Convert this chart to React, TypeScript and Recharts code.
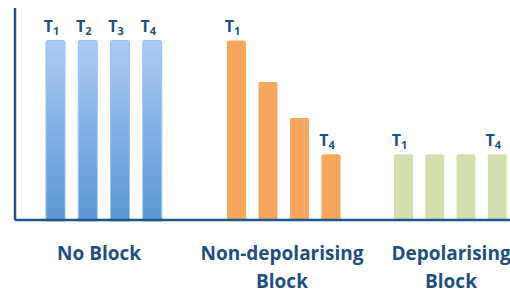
import React from "react";
import { BarChart, Bar, XAxis, YAxis, LabelList } from "recharts";

const pulses = ["T1", "T2", "T3", "T4"];
const noBlock = [100, 100, 100, 100];
const nonDepolarising = [100, 77, 57, 37];
const depolarising = [37, 37, 37, 37];
const noBlockTags = ["T1", "T2", "T3", "T4"];
const nonDepolarisingTags = ["T1", "", "", "T4"];
const depolarisingTags = ["T1", "", "", "T4"];
const groupNames = [["No Block"], ["Non-depolarising", "Block"], ["Depolarising", "Block"]];

const AXIS = "#20558a";
const TEXT = "#1d4f80";
const FONT = "'Open Sans', sans-serif";
const DOMAIN: [number, number] = [0, 118];

// where each group's 4 bars sit (px) and where its name is centred
const slots = [
  { left: 39, width: 129, nameX: 99 },
  { left: 221, width: 126, nameX: 282 },
  { left: 388, width: 125, nameX: 451 },
];

const rows = (values: number[], tags: string[]) =>
  pulses.map((p, i) => ({ pulse: p, value: values[i], tag: tags[i] }));

function PulseTag(props: any) {
  const { x, y, width, value } = props;
  if (!value) return null;
  const n = String(value).slice(1);
  return (
    <text
      x={x + width / 2 - 4}
      y={y - 8}
      textAnchor="middle"
      fill={TEXT}
      fontFamily={FONT}
      fontWeight={700}
      fontSize={16}
    >
      <tspan>T</tspan>
      <tspan fontSize={11} dy={3}>{n}</tspan>
    </text>
  );
}

function Group(props: {
  values: number[];
  tags: string[];
  slot: { left: number; width: number };
  fill: string;
  gradient?: boolean;
}) {
  const { values, tags, slot, fill, gradient } = props;
  return (
    <div style={{ position: "absolute", left: slot.left, top: 0 }}>
      <BarChart
        width={slot.width}
        height={293}
        data={rows(values, tags)}
        margin={{ top: 8, right: 0, left: 0, bottom: 72 }}
        barCategoryGap={0}
      >
        <defs>
          <linearGradient id="blueFill" x1="0" y1="0" x2="0" y2="1">
            <stop offset="0%" stopColor="#abcbf4" />
            <stop offset="100%" stopColor="#5a96d6" />
          </linearGradient>
        </defs>
        <YAxis hide domain={DOMAIN} />
        <XAxis dataKey="pulse" hide />
        <Bar
          dataKey="value"
          barSize={19}
          fill={gradient ? "url(#blueFill)" : fill}
          stroke={gradient ? "#9cc0ee" : "none"}
          strokeWidth={1}
          radius={[2, 2, 0, 0]}
          isAnimationActive={false}
        >
          <LabelList dataKey="tag" content={PulseTag} />
        </Bar>
      </BarChart>
    </div>
  );
}

export default function App() {
  return (
    <div
      style={{
        position: "absolute",
        left: 0,
        top: 0,
        width: 510,
        height: 293,
        overflow: "hidden",
        background: "#ffffff",
      }}
    >
      <Group values={noBlock} tags={noBlockTags} slot={slots[0]} fill="#7fb0e6" gradient />
      <Group values={nonDepolarising} tags={nonDepolarisingTags} slot={slots[1]} fill="#f8a65b" />
      <Group values={depolarising} tags={depolarisingTags} slot={slots[2]} fill="#d4dfb0" />
      <div style={{ position: "absolute", left: 0, top: 0, pointerEvents: "none" }}>
        <BarChart
          width={510}
          height={293}
          data={rows(noBlock, noBlockTags)}
          margin={{ top: 8, right: 0, left: 14, bottom: 72 }}
        >
          <YAxis width={1} domain={DOMAIN} tick={false} tickLine={false} axisLine={{ stroke: AXIS, strokeWidth: 2.5 }} />
          <XAxis dataKey="pulse" height={1} tick={false} tickLine={false} axisLine={{ stroke: AXIS, strokeWidth: 2.5 }} />
          <Bar dataKey="value" fill="none" isAnimationActive={false} />
          {groupNames.map((lines, g) => (
            <text key={g} textAnchor="middle" fill={TEXT} fontFamily={FONT} fontWeight={700} fontSize={19}>
              {lines.map((l, i) => (
                <tspan key={l} x={slots[g].nameX} y={260 + i * 28}>
                  {l}
                </tspan>
              ))}
            </text>
          ))}
        </BarChart>
      </div>
    </div>
  );
}
